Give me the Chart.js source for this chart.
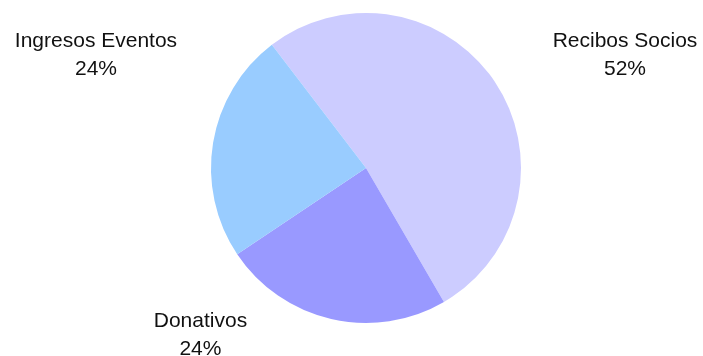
<!DOCTYPE html>
<html>
<head>
<meta charset="utf-8">
<script src="https://cdn.jsdelivr.net/npm/chart.js@4.4.1/dist/chart.umd.min.js"></script>
<style>
  html, body { margin: 0; padding: 0; background: #ffffff; }
  #wrap { width: 703px; height: 356px; position: relative; }
</style>
</head>
<body>
<div id="wrap"><canvas id="c" width="703" height="356"></canvas></div>
<script>
// Income sources (percent of total)
const categories = ['Recibos Socios', 'Donativos', 'Ingresos Eventos'];
const shares = [52, 24, 24];
const sliceColors = ['#CCCCFF', '#9999FF', '#99CCFF'];

// Label anchor per slice, in units of the pie radius from its centre
// (x of text centre, y of first baseline)
const labelAnchors = [
  [1.671, -0.781],
  [-1.068, 1.026],
  [-1.742, -0.781]
];

const LABEL_FONT = '21px "Liberation Sans", Arial, sans-serif';
const LINE_GAP = 28;

const outsideLabels = {
  id: 'outsideLabels',
  afterDatasetsDraw(chart) {
    const ctx = chart.ctx;
    const meta = chart.getDatasetMeta(0);
    const data = chart.data.datasets[0].data;
    const total = data.reduce((a, b) => a + b, 0);
    ctx.save();
    ctx.font = LABEL_FONT;
    ctx.fillStyle = '#111111';
    ctx.textAlign = 'center';
    ctx.textBaseline = 'alphabetic';
    meta.data.forEach((arc, i) => {
      const r = arc.outerRadius;
      const x = arc.x + labelAnchors[i][0] * r;
      const y = arc.y + labelAnchors[i][1] * r;
      const pct = Math.round(data[i] / total * 100) + '%';
      ctx.fillText(chart.data.labels[i], x, y);
      ctx.fillText(pct, x, y + LINE_GAP);
    });
    ctx.restore();
  }
};

new Chart(document.getElementById('c'), {
  type: 'pie',
  data: {
    labels: categories,
    datasets: [{
      data: shares,
      backgroundColor: sliceColors,
      borderWidth: 0,
      hoverOffset: 0
    }]
  },
  options: {
    responsive: false,
    animation: false,
    rotation: -37.4,
    layout: { padding: { left: 211, right: 182, top: 13, bottom: 33 } },
    plugins: {
      legend: { display: false },
      tooltip: { enabled: false }
    }
  },
  plugins: [outsideLabels]
});
</script>
</body>
</html>
